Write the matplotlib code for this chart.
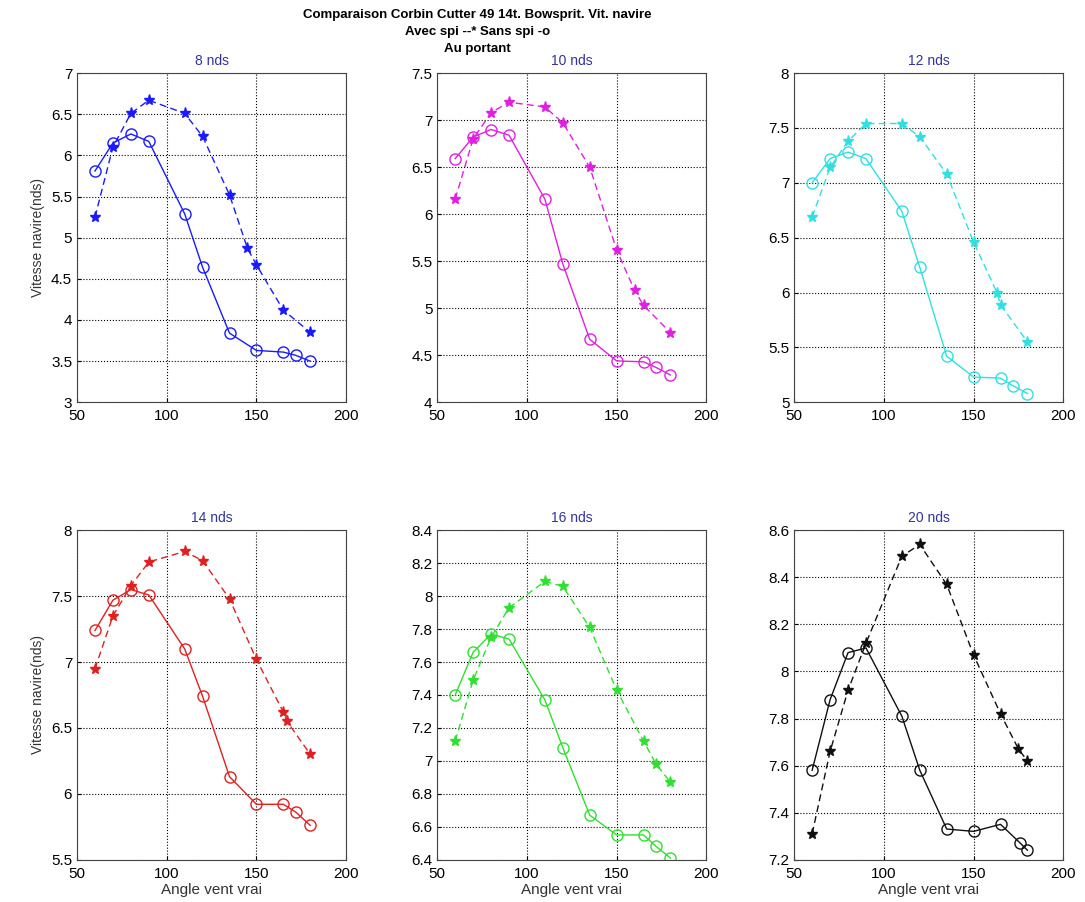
import matplotlib
matplotlib.use("Agg")
import matplotlib.pyplot as plt
import numpy as np
from matplotlib.ticker import FormatStrFormatter

plt.rcParams['font.family'] = ['Liberation Sans', 'DejaVu Sans']

# wind speeds (one panel each)
titles = ["8 nds", "10 nds", "12 nds", "14 nds", "16 nds", "20 nds"]
colors = ["#1a1aff", "#e020e0", "#30e0e0", "#e02020", "#30e030", "#101010"]
ylims = [(3, 7), (4, 7.5), (5, 8), (5.5, 8), (6.4, 8.4), (7.2, 8.6)]
ysteps = [0.5, 0.5, 0.5, 0.5, 0.2, 0.2]

# sans spi (-o)
angles_o = [60, 70, 80, 90, 110, 120, 135, 150, 165, 172, 180]
angles_o20 = [60, 70, 80, 90, 110, 120, 135, 150, 165, 176, 180]
speed_o = [
    [5.81, 6.15, 6.26, 6.17, 5.29, 4.64, 3.84, 3.63, 3.61, 3.57, 3.50],
    [6.59, 6.82, 6.90, 6.84, 6.16, 5.47, 4.67, 4.44, 4.43, 4.37, 4.29],
    [7.00, 7.22, 7.28, 7.22, 6.74, 6.23, 5.42, 5.23, 5.22, 5.15, 5.08],
    [7.24, 7.47, 7.55, 7.51, 7.10, 6.74, 6.13, 5.92, 5.92, 5.86, 5.76],
    [7.40, 7.66, 7.77, 7.74, 7.37, 7.08, 6.67, 6.55, 6.55, 6.48, 6.41],
    [7.58, 7.88, 8.08, 8.10, 7.81, 7.58, 7.33, 7.32, 7.35, 7.27, 7.24],
]

# avec spi (--*)
angles_s = [
    [60, 70, 80, 90, 110, 120, 135, 145, 150, 165, 180],
    [60, 70, 80, 90, 110, 120, 135, 150, 160, 165, 180],
    [60, 70, 80, 90, 110, 120, 135, 150, 163, 165, 180],
    [60, 70, 80, 90, 110, 120, 135, 150, 165, 167, 180],
    [60, 70, 80, 90, 110, 120, 135, 150, 165, 172, 180],
    [60, 70, 80, 90, 110, 120, 135, 150, 165, 175, 180],
]
speed_s = [
    [5.25, 6.10, 6.51, 6.67, 6.51, 6.23, 5.52, 4.87, 4.67, 4.12, 3.85],
    [6.16, 6.80, 7.08, 7.19, 7.14, 6.97, 6.50, 5.62, 5.19, 5.03, 4.74],
    [6.69, 7.14, 7.38, 7.54, 7.54, 7.42, 7.08, 6.46, 6.00, 5.89, 5.55],
    [6.95, 7.35, 7.58, 7.76, 7.84, 7.77, 7.48, 7.02, 6.62, 6.55, 6.30],
    [7.12, 7.49, 7.75, 7.93, 8.09, 8.06, 7.81, 7.43, 7.12, 6.98, 6.87],
    [7.31, 7.66, 7.92, 8.12, 8.49, 8.54, 8.37, 8.07, 7.82, 7.67, 7.62],
]

fig = plt.figure(figsize=(10.85, 9.02), dpi=100)

lefts = [0.071, 0.403, 0.732]
bottoms = [0.554, 0.047]
w, h = 0.248, 0.365

for i in range(6):
    row, col = divmod(i, 3)
    ax = fig.add_axes([lefts[col], bottoms[row], w, h])
    ao = angles_o20 if i == 5 else angles_o
    ax.plot(ao, speed_o[i], '-o', color=colors[i], lw=1.0,
            markersize=8, markerfacecolor='none', markeredgewidth=1.0)
    ax.plot(angles_s[i], speed_s[i], '--*', color=colors[i], lw=1.0,
            markersize=8, dashes=(5, 3))
    ax.set_xlim(50, 200)
    ax.set_xticks([50, 100, 150, 200])
    lo, hi = ylims[i]
    ax.set_ylim(lo, hi)
    ax.set_yticks(np.round(np.arange(lo, hi + 1e-6, ysteps[i]), 2))
    ax.yaxis.set_major_formatter(FormatStrFormatter('%g'))
    ax.grid(True, linestyle=':', color='black', lw=0.8)
    ax.tick_params(direction='in', labelsize=11, length=3)
    ax.tick_params(axis='x', pad=5)
    for sp in ax.spines.values():
        sp.set_color('#444444')
    ax.set_title(titles[i], color='#33339a', fontsize=10, pad=6)
    if col == 0:
        ax.set_ylabel("Vitesse navire(nds)", fontsize=10, color='#333333')
    if row == 1:
        ax.set_xlabel("Angle vent vrai", fontsize=11, color='#333333',
                      labelpad=2)

fig.text(0.44, 0.983, "Comparaison Corbin Cutter 49 14t. Bowsprit. Vit. navire",
         ha='center', va='center', fontsize=9.5, fontweight='bold')
fig.text(0.44, 0.964, "Avec spi --* Sans spi -o",
         ha='center', va='center', fontsize=9.5, fontweight='bold')
fig.text(0.44, 0.946, "Au portant",
         ha='center', va='center', fontsize=9.5, fontweight='bold')

fig.savefig("out.png", dpi=100)
